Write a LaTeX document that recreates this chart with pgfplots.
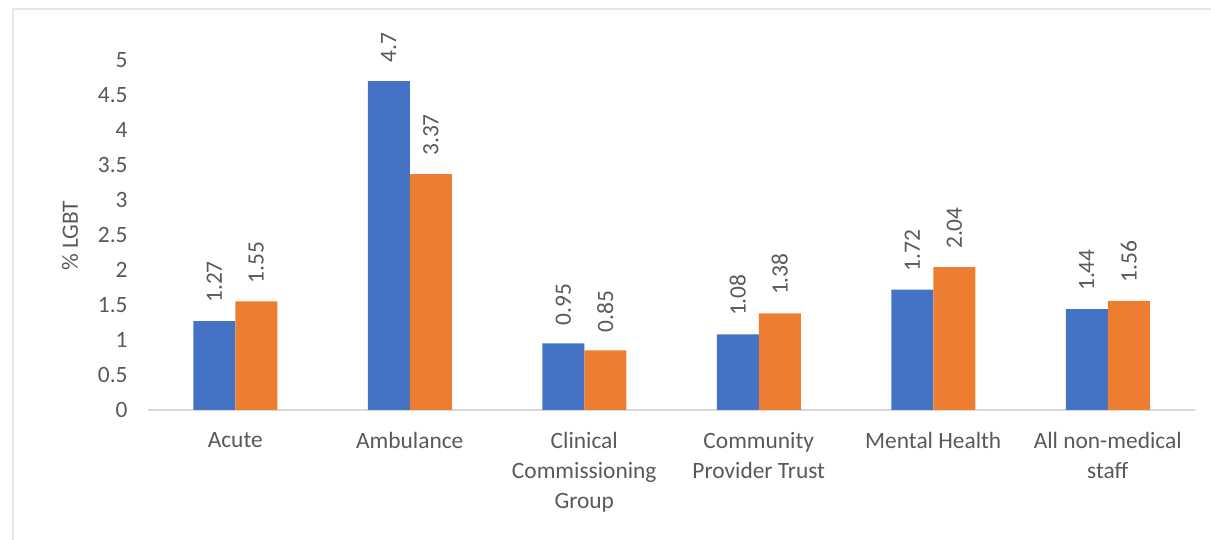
\documentclass[border=0pt]{standalone}
\usepackage{pgfplots}
\pgfplotsset{compat=1.18}
\usepackage{fontspec}
\setmainfont{Carlito}
\definecolor{barblue}{HTML}{4472C4}
\definecolor{barorange}{HTML}{ED7D31}
\definecolor{txt}{HTML}{595959}
\definecolor{axgray}{HTML}{D9D9D9}
\definecolor{framegray}{HTML}{E6E6E6}
\begin{document}
\begin{tikzpicture}
\useasboundingbox (0,0) rectangle (605.5pt,270pt);
\draw[color=framegray, line width=1.2pt] (6.5pt,-2pt) -- (6.5pt,265.5pt) -- (608pt,265.5pt);
\node[rotate=90, text=txt, font=\fontsize{11.7}{14}\selectfont] at (35pt,152pt) {\% LGBT};
\begin{axis}[
  at={(74pt,65pt)}, anchor=south west,
  scale only axis, width=523.5pt, height=175pt,
  xmin=-0.5, xmax=5.5, ymin=0, ymax=5,
  clip=false,
  axis x line*=bottom, axis y line*=left,
  x axis line style={draw=axgray, line width=0.8pt, -},
  y axis line style={draw=none},
  major tick length=0pt,
  ybar=0pt, bar width=21pt,
  /pgf/number format/assume math mode=true,
  ytick={0,0.5,1,1.5,2,2.5,3,3.5,4,4.5,5},
  yticklabel style={anchor=east, inner sep=0pt, xshift=-10pt, text=txt, font=\fontsize{11.7}{14}\selectfont},
  xtick={0,1,2,3,4,5},
  xticklabels={Acute, Ambulance, {Clinical\\Commissioning\\Group}, {Community\\Provider Trust}, Mental Health, {All non-medical\\staff}},
  xticklabel style={anchor=north, align=center, inner sep=0pt, yshift=-11pt, text=txt, font=\fontsize{11.7}{15}\selectfont},
  nodes near coords,
  every node near coord/.append style={rotate=90, anchor=west, inner xsep=9pt, inner ysep=0pt, text=txt, font=\fontsize{11.7}{14}\selectfont},
]
\addplot[fill=barblue, draw=none] coordinates {(0,1.27) (1,4.7) (2,0.95) (3,1.08) (4,1.72) (5,1.44)};
\addplot[fill=barorange, draw=none] coordinates {(0,1.55) (1,3.37) (2,0.85) (3,1.38) (4,2.04) (5,1.56)};
\end{axis}
\end{tikzpicture}
\end{document}
